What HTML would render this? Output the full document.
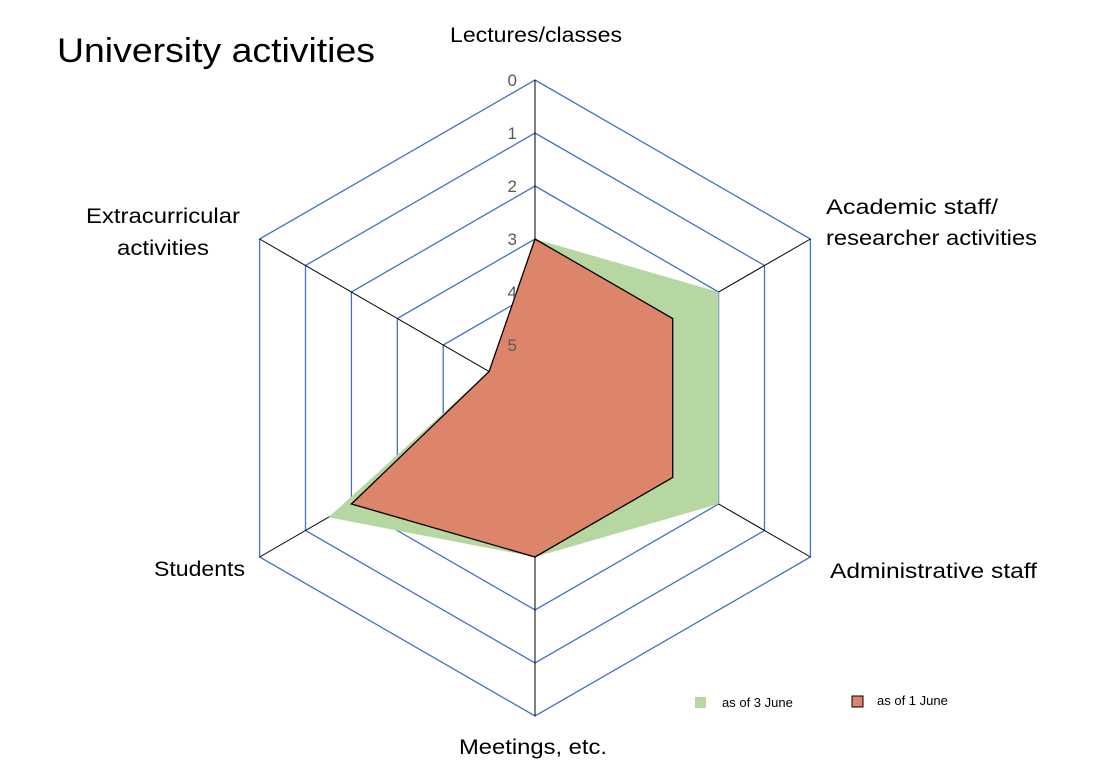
<!DOCTYPE html>
<html><head><style>body{margin:0;background:#fff}svg{display:block}text{font-family:"Liberation Sans",sans-serif}</style></head>
<body>
<svg width="1107" height="781" viewBox="0 0 1107 781" xmlns="http://www.w3.org/2000/svg">
<rect width="1107" height="781" fill="#fff"/>
<text x="57" y="62" font-size="34" fill="#000" textLength="318" lengthAdjust="spacingAndGlyphs">University activities</text>
<g fill="none" stroke="#4472C4" stroke-width="1.3">
<polygon points="535,80 810.4,239 810.4,557 535,716 259.6,557 259.6,239"/>
<polygon points="535,133 764.5,265.5 764.5,530.5 535,663 305.5,530.5 305.5,265.5"/>
<polygon points="535,186 718.6,292 718.6,504 535,610 351.4,504 351.4,292"/>
<polygon points="535,239 672.7,318.5 672.7,477.5 535,557 397.3,477.5 397.3,318.5"/>
<polygon points="535,292 626.8,345 626.8,451 535,504 443.2,451 443.2,345"/>
<polygon points="535,345 580.9,371.5 580.9,424.5 535,451 489.1,424.5 489.1,371.5"/>
</g>
<g stroke="#000" stroke-width="1">
<line x1="535" y1="398" x2="535" y2="80"/>
<line x1="535" y1="398" x2="810.4" y2="239"/>
<line x1="535" y1="398" x2="810.4" y2="557"/>
<line x1="535" y1="398" x2="535" y2="716"/>
<line x1="535" y1="398" x2="259.6" y2="557"/>
<line x1="535" y1="398" x2="259.6" y2="239"/>
</g>
<polygon points="535,239 718.6,292 718.6,504 535,557 328.5,517.3 489.1,371.5" fill="#B6D7A1"/>
<polygon points="535,239 672.7,318.5 672.7,477.5 535,557 351.4,504 489.1,371.5" fill="#DD856B" stroke="#000" stroke-width="1.3"/>
<g font-size="17" fill="#595959" text-anchor="end">
<text x="517" y="86">0</text>
<text x="517" y="139">1</text>
<text x="517" y="192">2</text>
<text x="517" y="245">3</text>
<text x="517" y="298">4</text>
<text x="517" y="351">5</text>
</g>
<g font-size="21" fill="#000">
<text x="450" y="42" textLength="172" lengthAdjust="spacingAndGlyphs">Lectures/classes</text>
<text x="826" y="214" textLength="172" lengthAdjust="spacingAndGlyphs">Academic staff/</text>
<text x="826" y="245" textLength="211" lengthAdjust="spacingAndGlyphs">researcher activities</text>
<text x="830" y="578" textLength="207" lengthAdjust="spacingAndGlyphs">Administrative staff</text>
<text x="459" y="754" textLength="148" lengthAdjust="spacingAndGlyphs">Meetings, etc.</text>
<text x="154" y="576" textLength="91" lengthAdjust="spacingAndGlyphs">Students</text>
<text x="86" y="223" textLength="154" lengthAdjust="spacingAndGlyphs">Extracurricular</text>
<text x="117" y="255" textLength="92" lengthAdjust="spacingAndGlyphs">activities</text>
</g>
<rect x="695" y="697" width="11" height="11" fill="#B6D7A1"/>
<text x="722" y="707" font-size="13">as of 3 June</text>
<rect x="852" y="696" width="11" height="11" fill="#DD856B" stroke="#000"/>
<text x="877" y="705" font-size="13">as of 1 June</text>
</svg>
</body></html>
